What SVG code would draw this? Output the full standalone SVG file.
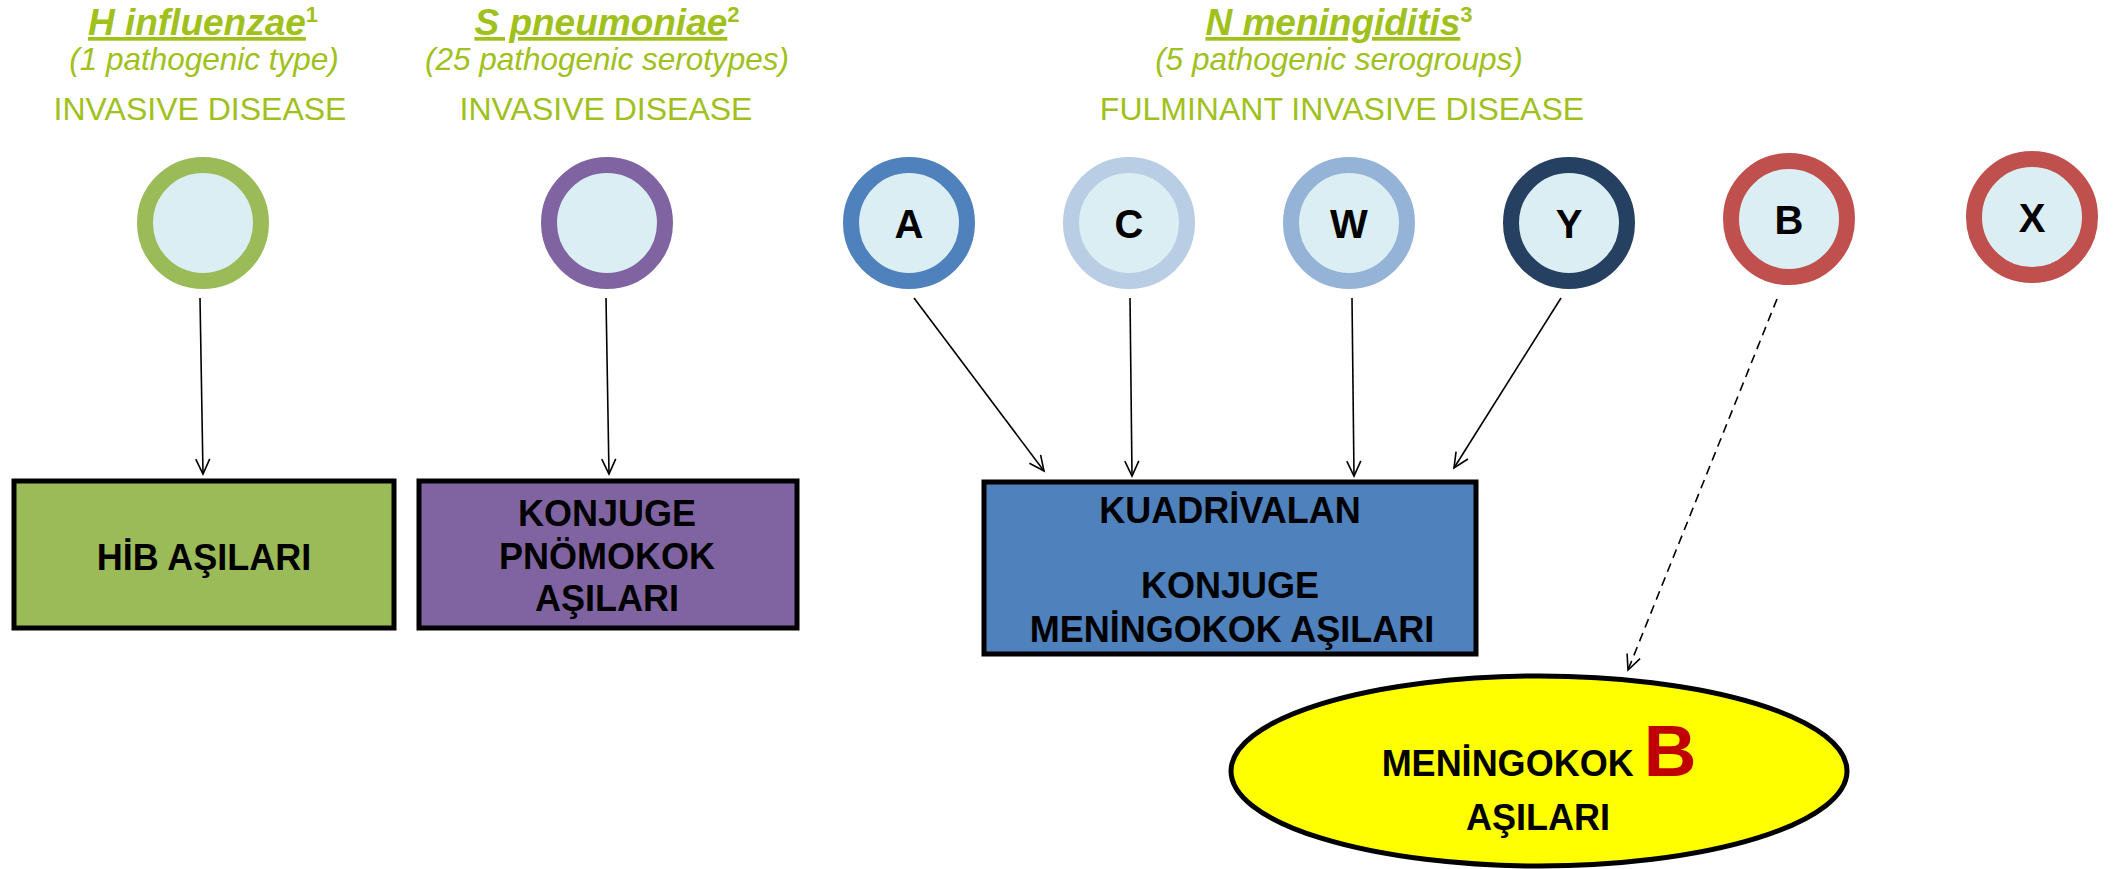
<svg xmlns="http://www.w3.org/2000/svg" width="2121" height="869" viewBox="0 0 2121 869">
<style>
.title{font-family:"Liberation Sans",Arial,sans-serif;font-weight:bold;font-style:italic;font-size:37px;fill:#A0C01C;text-anchor:middle}
.sub{font-family:"Liberation Sans",Arial,sans-serif;font-style:italic;font-size:31.5px;fill:#A0C01C;text-anchor:middle}
.dis{font-family:"Liberation Sans",Arial,sans-serif;font-size:32px;fill:#A0C01C;text-anchor:middle}
.sup{font-size:22px;font-style:normal}
.ring{stroke-width:16;fill:#DAEEF3}
.let{font-family:"Liberation Sans",Arial,sans-serif;font-weight:bold;font-size:40px;fill:#000;text-anchor:middle}
.box{stroke:#000;stroke-width:5}
.bt{font-family:"Liberation Sans",Arial,sans-serif;font-weight:bold;font-size:36px;fill:#000;text-anchor:middle}
.conn{stroke:#000;stroke-width:1.6;fill:none;marker-end:url(#arr)}
</style>
<defs>
<marker id="arr" markerUnits="userSpaceOnUse" markerWidth="20" markerHeight="20" viewBox="0 0 20 20" refX="16" refY="10" orient="auto">
<path d="M1,3 L16,10 L1,17" fill="none" stroke="#000" stroke-width="1.6"/>
</marker>
</defs>
<g id="titles">
<text class="title" x="203" y="35"><tspan text-decoration="underline">H influenzae</tspan><tspan class="sup" dy="-13">1</tspan></text>
<text class="sub" x="204" y="70">(1 pathogenic type)</text>
<text class="dis" x="200" y="120">INVASIVE DISEASE</text>
<text class="title" x="607" y="35"><tspan text-decoration="underline">S pneumoniae</tspan><tspan class="sup" dy="-13">2</tspan></text>
<text class="sub" x="607" y="70">(25 pathogenic serotypes)</text>
<text class="dis" x="606" y="120">INVASIVE DISEASE</text>
<text class="title" x="1339" y="35"><tspan text-decoration="underline">N meningiditis</tspan><tspan class="sup" dy="-13">3</tspan></text>
<text class="sub" x="1339" y="70">(5 pathogenic serogroups)</text>
<text class="dis" x="1342" y="120">FULMINANT INVASIVE DISEASE</text>
</g>
<g id="connectors">
<line class="conn" x1="200" y1="298" x2="203" y2="474"/>
<line class="conn" x1="606" y1="298" x2="609" y2="474"/>
<line class="conn" x1="914" y1="298" x2="1044" y2="471"/>
<line class="conn" x1="1130" y1="298" x2="1132" y2="476"/>
<line class="conn" x1="1352" y1="298" x2="1354" y2="476"/>
<line class="conn" x1="1561" y1="298" x2="1454" y2="468"/>
<line class="conn" x1="1777" y1="299" x2="1628" y2="670" stroke-dasharray="9,6"/>
</g>
<g id="hib-circle"><circle class="ring" cx="203" cy="223" r="58" stroke="#9BBB59"/></g>
<g id="pneumo-circle"><circle class="ring" cx="607" cy="223" r="58" stroke="#8064A2"/></g>
<g id="A"><circle class="ring" cx="909" cy="223" r="58" stroke="#4F81BD"/><text class="let" x="909" y="238">A</text></g>
<g id="C"><circle class="ring" cx="1129" cy="223" r="58" stroke="#B9CDE5"/><text class="let" x="1129" y="238">C</text></g>
<g id="W"><circle class="ring" cx="1349" cy="223" r="58" stroke="#95B3D7"/><text class="let" x="1349" y="238">W</text></g>
<g id="Y"><circle class="ring" cx="1569" cy="223" r="58" stroke="#254061"/><text class="let" x="1569" y="238">Y</text></g>
<g id="B"><circle class="ring" cx="1789" cy="219" r="58" stroke="#C0504D"/><text class="let" x="1789" y="234">B</text></g>
<g id="X"><circle class="ring" cx="2032" cy="217" r="58" stroke="#C0504D"/><text class="let" x="2032" y="232">X</text></g>
<g id="hib-box"><rect class="box" x="14" y="481" width="380" height="147" fill="#9BBB59"/><text class="bt" x="204" y="570">HİB AŞILARI</text></g>
<g id="pneumo-box"><rect class="box" x="419" y="481" width="378" height="147" fill="#8064A2"/>
<text class="bt" x="607" y="526">KONJUGE</text><text class="bt" x="607" y="569">PNÖMOKOK</text><text class="bt" x="607" y="611">AŞILARI</text></g>
<g id="mening-box"><rect class="box" x="984" y="482" width="492" height="172" fill="#4F81BD"/>
<text class="bt" x="1230" y="523">KUADRİVALAN</text><text class="bt" x="1230" y="598">KONJUGE</text><text class="bt" x="1232" y="642">MENİNGOKOK AŞILARI</text></g>
<g id="menb"><ellipse cx="1539" cy="771" rx="308" ry="95" fill="#FFFF00" stroke="#000" stroke-width="5"/>
<text class="bt" x="1539" y="776">MENİNGOKOK <tspan fill="#C00000" font-size="73">B</tspan></text>
<text class="bt" x="1538" y="830">AŞILARI</text></g>
</svg>
